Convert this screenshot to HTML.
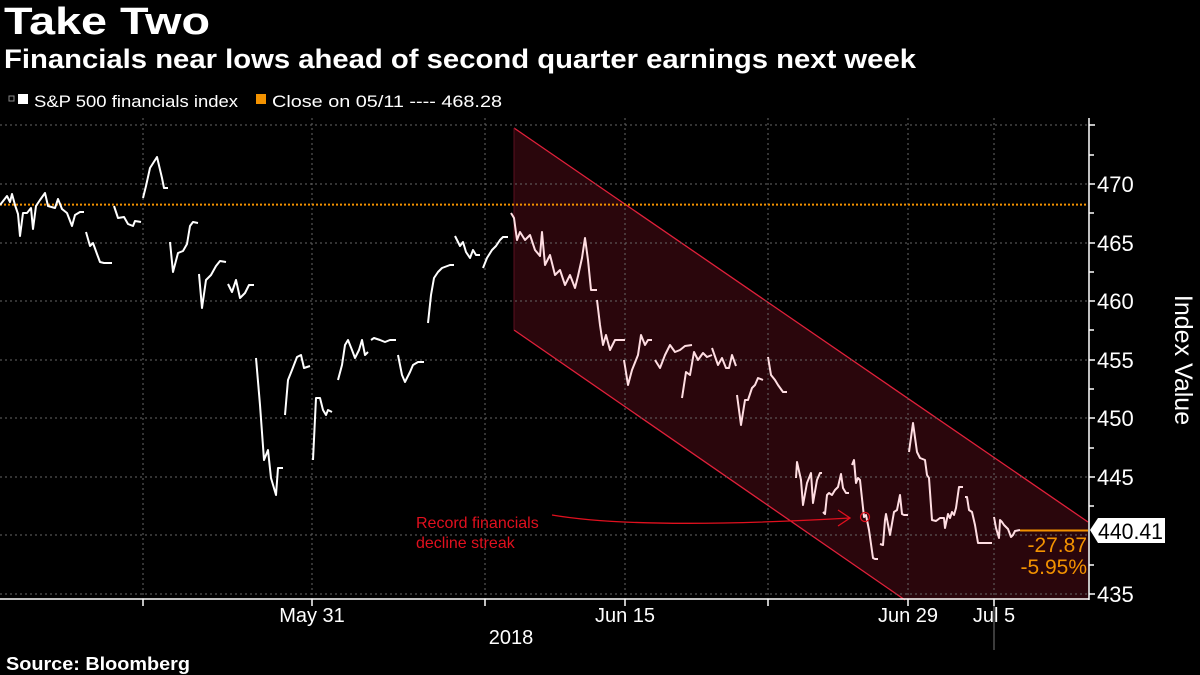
<!DOCTYPE html>
<html><head><meta charset="utf-8"><style>
html,body{margin:0;padding:0;background:#000;}
svg{display:block;font-family:"Liberation Sans",sans-serif;}
</style></head><body>
<svg width="1200" height="675" viewBox="0 0 1200 675">
<rect width="1200" height="675" fill="#000"/>
<text x="4" y="34" fill="#fff" font-size="38" font-weight="bold" textLength="206" lengthAdjust="spacingAndGlyphs">Take Two</text>
<text x="4" y="68" fill="#fff" font-size="27" font-weight="bold" textLength="912" lengthAdjust="spacingAndGlyphs">Financials near lows ahead of second quarter earnings next week</text>
<g fill="#fff" font-size="17">
<rect x="9" y="96" width="5" height="5" fill="none" stroke="#888"/>
<rect x="18" y="94" width="10" height="10" fill="#fff"/>
<text x="34" y="107" textLength="204" lengthAdjust="spacingAndGlyphs">S&amp;P 500 financials index</text>
<rect x="256" y="94" width="10" height="10" fill="#f39200"/>
<text x="272" y="107" textLength="230" lengthAdjust="spacingAndGlyphs">Close on 05/11 ---- 468.28</text>
</g>
<polygon points="514,128 1088,522 1088,600 905,600 514,330" fill="#2a060c"/>
<line x1="514" y1="128" x2="1088" y2="522" stroke="#e0203a" stroke-width="1.3"/>
<line x1="514" y1="330" x2="905" y2="600" stroke="#e0203a" stroke-width="1.3"/>
<line x1="514" y1="128" x2="514" y2="330" stroke="#5a1020" stroke-width="1"/>
<g stroke="#666" stroke-dasharray="2,3" stroke-width="1">
<line x1="0" y1="125" x2="1088" y2="125"/>
<line x1="0" y1="184" x2="1088" y2="184"/>
<line x1="0" y1="243" x2="1088" y2="243"/>
<line x1="0" y1="301" x2="1088" y2="301"/>
<line x1="0" y1="360" x2="1088" y2="360"/>
<line x1="0" y1="418" x2="1088" y2="418"/>
<line x1="0" y1="477" x2="1088" y2="477"/>
<line x1="0" y1="535" x2="1088" y2="535"/>
<line x1="0" y1="594" x2="1088" y2="594"/>
<line x1="143" y1="118" x2="143" y2="600"/>
<line x1="312" y1="118" x2="312" y2="600"/>
<line x1="485" y1="118" x2="485" y2="600"/>
<line x1="625" y1="118" x2="625" y2="600"/>
<line x1="768" y1="118" x2="768" y2="600"/>
<line x1="908" y1="118" x2="908" y2="600"/>
<line x1="994" y1="118" x2="994" y2="600"/>
</g>
<line x1="0" y1="204.6" x2="1088" y2="204.6" stroke="#f39200" stroke-width="2" stroke-dasharray="2,2"/>
<line x1="0" y1="599" x2="1089" y2="599" stroke="#fff" stroke-width="1.5"/>
<line x1="1089" y1="118" x2="1089" y2="600" stroke="#fff" stroke-width="1.5"/>
<g stroke="#fff" stroke-width="1.5">
<line x1="143" y1="599" x2="143" y2="606"/><line x1="312" y1="599" x2="312" y2="606"/>
<line x1="485" y1="599" x2="485" y2="606"/><line x1="625" y1="599" x2="625" y2="606"/>
<line x1="768" y1="599" x2="768" y2="606"/><line x1="908" y1="599" x2="908" y2="606"/>
<line x1="994" y1="599" x2="994" y2="606"/>
<line x1="1089" y1="125" x2="1095" y2="125"/><line x1="1089" y1="184" x2="1095" y2="184"/>
<line x1="1089" y1="243" x2="1095" y2="243"/><line x1="1089" y1="301" x2="1095" y2="301"/>
<line x1="1089" y1="360" x2="1095" y2="360"/><line x1="1089" y1="418" x2="1095" y2="418"/>
<line x1="1089" y1="477" x2="1095" y2="477"/><line x1="1089" y1="506" x2="1094" y2="506"/>
<line x1="1089" y1="565" x2="1094" y2="565"/><line x1="1089" y1="594" x2="1095" y2="594"/>
<line x1="1089" y1="155" x2="1094" y2="155"/><line x1="1089" y1="213" x2="1094" y2="213"/>
<line x1="1089" y1="272" x2="1094" y2="272"/><line x1="1089" y1="330" x2="1094" y2="330"/>
<line x1="1089" y1="389" x2="1094" y2="389"/><line x1="1089" y1="448" x2="1094" y2="448"/>
</g>
<line x1="994" y1="606" x2="994" y2="650" stroke="#777" stroke-width="1"/>
<g fill="#fff" font-size="22">
<text x="1097" y="192">470</text><text x="1097" y="251">465</text><text x="1097" y="309">460</text>
<text x="1097" y="368">455</text><text x="1097" y="426">450</text><text x="1097" y="485">445</text>
<text x="1097" y="602">435</text>
</g>
<text transform="translate(1175,360) rotate(90)" fill="#fff" font-size="25" text-anchor="middle">Index Value</text>
<g fill="#fff" font-size="20" text-anchor="middle">
<text x="312" y="622">May 31</text><text x="625" y="622">Jun 15</text>
<text x="908" y="622">Jun 29</text><text x="994" y="622">Jul 5</text>
<text x="511" y="644">2018</text>
</g>
<g fill="none" stroke="#fff" stroke-width="2" stroke-linejoin="round">
<polyline points="0,205 7,196 10,202 12,194 15,205 18,214 20,236 23,213 27,213 31,208 33,229 36,206 40,200 45,193 48,206 55,208 58,199 62,209 67,213 72,226 75,215 80,212 84,212"/>
<polyline points="86,232 90,246 93,243 97,254 100,262 104,263 112,263"/>
<polyline points="114,206 118,218 124,217 128,224 133,226 135,221 141,222"/>
<polyline points="143,198 146,186 150,168 157,157 162,178 164,188 168,188"/>
<polyline points="170,242 173,272 178,253 183,251 187,244 190,226 193,222 198,223"/>
<polyline points="199,274 202,308 206,280 211,275 216,266 220,261 226,262"/>
<polyline points="228,284 232,292 236,280 240,298 245,293 249,285 254,285"/>
<polyline points="256,358 260,405 264,460 268,450 271,478 276,495 278,468 283,468"/>
<polyline points="285,415 288,380 292,370 297,357 301,355 304,368 310,366"/>
<polyline points="313,460 316,398 320,398 323,410 326,415 328,410 332,412"/>
<polyline points="338,380 342,365 345,345 348,340 352,350 355,358 359,350 362,340 365,355 368,352"/>
<polyline points="371,340 374,338 380,340 385,342 390,340 396,340"/>
<polyline points="398,355 402,375 405,382 410,372 413,365 418,362 424,362"/>
<polyline points="428,323 431,295 434,278 438,272 442,268 450,265 454,265"/>
<polyline points="455,236 460,246 463,242 466,252 470,258 473,250 476,255 480,255"/>
<polyline points="483,268 487,258 492,250 496,246 500,240 503,237 508,237"/>
</g>
<g fill="none" stroke="#ffdde2" stroke-width="2" stroke-linejoin="round">
<polyline points="511,213 514,218 517,240 520,232 525,240 530,235 535,250 540,256 542,232 545,265 550,255 555,275 560,270 565,285 570,275 575,288 578,276 582,258 585,238 588,260 591,290 597,290"/>
<polyline points="597,300 600,325 603,345 606,335 610,350 615,340 620,340 625,340"/>
<polyline points="624,360 628,385 632,370 638,355 641,335 645,345 648,340 652,340"/>
<polyline points="655,360 660,368 665,355 670,345 675,352 680,350 685,346 692,345"/>
<polyline points="682,398 686,372 690,375 694,352 698,360 703,353 707,357 712,355"/>
<polyline points="712,348 718,365 722,358 726,368 729,368 732,355 736,366"/>
<polyline points="737,395 741,425 745,400 748,400 752,388 755,385 758,378 763,380"/>
<polyline points="768,357 771,375 775,380 778,385 783,392 787,392"/>
<polyline points="796,478 797,462 801,480 803,505 807,483 811,473 813,503 817,480 820,473 822,473"/>
<polyline points="823,512 825,514 827,495 829,493 832,495 835,490 838,487 841,474 843,488 846,493 849,493"/>
<polyline points="852,465 854,460 856,483 858,478 860,480 864,517 866,515 869,530 873,558 875,559 878,559"/>
<polyline points="880,544 883,545 885,520 886,514 890,535 894,512 897,510 900,495 902,514 904,515 908,515"/>
<polyline points="909,452 913,423 917,452 920,458 925,460 927,475 929,478 932,520 936,521 940,518 944,518 945,528 948,514 950,518 952,512 954,515 956,508 959,487 963,487"/>
<polyline points="965,497 967,497 969,510 972,512 975,525 978,543 984,543 992,543"/>
<polyline points="994,517 996,528 999,538 1000,520 1002,522 1004,525 1008,529 1011,537 1013,535 1015,531 1020,530"/>
</g>
<line x1="1020" y1="530.5" x2="1088" y2="530.5" stroke="#f39200" stroke-width="2"/>
<polygon points="1090,530 1098,518 1165,518 1165,543 1098,543" fill="#fff"/>
<text x="1098" y="539" fill="#000" font-size="22" textLength="65" lengthAdjust="spacingAndGlyphs">440.41</text>
<g fill="#f39200" font-size="21" text-anchor="end">
<text x="1087" y="552">-27.87</text><text x="1087" y="574">-5.95%</text>
</g>
<g fill="#e0101e" font-size="16">
<text x="416" y="528">Record financials</text>
<text x="416" y="548">decline streak</text>
</g>
<path d="M552,515 Q640,530 850,518" fill="none" stroke="#e0101e" stroke-width="1.3"/>
<polyline points="838,510 850,518 838,526" fill="none" stroke="#e0101e" stroke-width="1.3"/>
<circle cx="865" cy="517" r="4.5" fill="none" stroke="#e0101e" stroke-width="1.3"/>
<text x="6" y="670" fill="#fff" font-size="18" font-weight="bold" textLength="184" lengthAdjust="spacingAndGlyphs">Source: Bloomberg</text>
</svg>
</body></html>
